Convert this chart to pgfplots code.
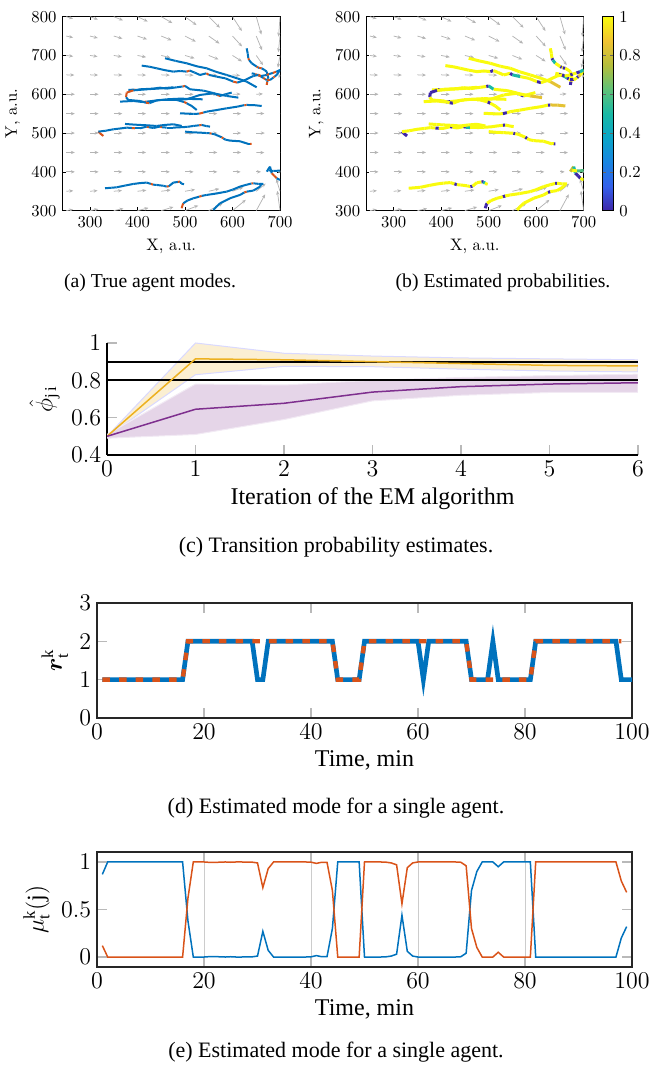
\documentclass[border=0pt]{standalone}
\usepackage{fontspec}
\setmainfont{Liberation Serif}
\newfontfamily\lmr{Latin Modern Roman}
\usepackage{amsmath}
\usepackage{pgfplots}
\pgfplotsset{compat=1.18}
\usepackage{pgfplotstable}
\usetikzlibrary{arrows.meta}

\definecolor{mblue}{RGB}{0,114,189}
\definecolor{morange}{RGB}{217,83,25}
\definecolor{myellow}{RGB}{237,177,32}
\definecolor{mpurple}{RGB}{126,47,142}
\definecolor{qgray}{RGB}{180,180,180}

\pgfplotsset{
  colormap={ao}{rgb255(0cm)=(217,83,25) rgb255(2.5cm)=(217,83,25) rgb255(3cm)=(0,114,189) rgb255(10cm)=(0,114,189)},
  colormap={parula}{rgb255=(62,38,168) rgb255=(52,96,235) rgb255=(25,133,225) rgb255=(10,165,200) rgb255=(25,185,165) rgb255=(95,194,120) rgb255=(180,190,60) rgb255=(240,195,50) rgb255=(249,251,14)},
}

% quiver field (x y u v)
\pgfplotstableread{
x y u v
250 800 14.0 -5.4
300 800 16.7 -7.3
350 800 19.3 -9.6
400 800 21.5 -12.6
450 800 23.3 -16.5
500 800 24.2 -21.6
550 800 23.4 -28.5
600 800 19.6 -37.0
650 800 10.8 -46.1
700 800 -3.0 -51.4
250 750 14.4 -3.9
300 750 16.4 -5.0
350 750 18.3 -6.5
400 750 20.1 -8.3
450 750 21.6 -10.8
500 750 22.7 -14.3
550 750 22.6 -19.4
600 750 20.1 -26.8
650 750 12.1 -36.2
700 750 -3.5 -41.5
250 700 14.6 -2.3
300 700 15.8 -2.8
350 700 17.0 -3.5
400 700 18.1 -4.4
450 700 19.2 -5.6
500 700 20.1 -7.4
550 700 20.6 -10.3
600 700 19.9 -15.4
650 700 14.2 -24.8
700 700 -4.5 -31.4
250 650 17 -0.5
300 650 17 -0.5
350 650 18 -0.6
400 650 18 -0.7
450 650 18 -0.8
500 650 18 -1
550 650 18 -1.2
600 650 16 -1.8
650 650 12 -3
700 650 -3 -8
250 600 18 0
300 600 18 0
350 600 18 0
400 600 18 0
450 600 18 0
500 600 18 0
550 600 18 0
600 600 17 0.5
650 600 14 1
700 600 8 2
250 550 18 0
300 550 18 0
350 550 18 0
400 550 18 0
450 550 18 0
500 550 18 0
550 550 18 0
600 550 18 0
650 550 17 0.5
700 550 12 2
250 500 18 0
300 500 18 0
350 500 18 0
400 500 18 0
450 500 18 0
500 500 18 0
550 500 18 0
600 500 18 0
650 500 18 0
700 500 14 0
250 450 18 0
300 450 18 0
350 450 18 0
400 450 18 0
450 450 18 0
500 450 18 0
550 450 18 0
600 450 18 0
650 450 17 -0.5
700 450 12 -2
250 400 18 0
300 400 18 0
350 400 18 0
400 400 18 0
450 400 18 0
500 400 18 0
550 400 18 0
600 400 17 0
650 400 10 0
700 400 -4 -2
250 350 14.7 1.3
300 350 16.0 1.6
350 350 17.3 2.0
400 350 18.6 2.6
450 350 19.9 3.3
500 350 21.1 4.4
550 350 22.2 6.3
600 350 22.7 10.1
650 350 19.7 19.7
700 350 -7.8 31.3
250 300 14.5 3.0
300 300 17.5 4.0
350 300 20.4 5.4
400 300 23.1 7.2
450 300 25.7 9.6
500 300 27.9 13.2
550 300 29.3 18.8
600 300 27.9 27.9
650 300 18.7 42.1
700 300 -5.7 51.1
}\quivtab

% agent trajectories (x y mode); mode of a point colours the segment that starts there
\pgfplotstableread{
x y m
629.8 718.4 1
632 705 1
633.3 692.7 0
635 688 0.5
640.4 679.8 1
650.9 671.2 0
654 669 1
656 668 0
661.4 666.9 1
668 662 1
672 658.3 1
675.5 641.1 0.85
673 632 0
672 624 0
}\tA
\pgfplotstableread{
x y m
640.4 654 1
648 652 0
657.9 647.1 0.5
665 642 0
669 639 1
672 636.8 0
679 636.8 1
686 643 0
689 646 0.85
693 649.7 1
700 662.6 1
}\tAA
\pgfplotstableread{
x y m
457.9 692.7 1
480 686 1
503.5 679.8 1
525 672 1
545.6 666.9 1
565 658 1
587.7 649.7 1
610 641 1
629.8 632.5 0.85
650.9 617.9 0.85
}\tB
\pgfplotstableread{
x y m
408.8 673.8 1
425 671 1
440.3 666.9 1
458 662 1
475.4 658.3 1
490 660 1
503.5 658.3 0
510 661 1
520 656 1
531.6 649.7 1
545 654 0
550 650 0.5
566.7 645.4 1
585 641 1
601.8 632.5 0
610 630 1
625 636 1
643.9 647.1 1
655 650 0
660 647 1
672 649.7 0
677 652 1
685 655 0
692 658 0.5
700 662.6 1
}\tC
\pgfplotstableread{
x y m
380.7 611.1 1
393 612 0
398 611 1
405.3 612.8 1
433.3 614.5 1
447 617 1
461.4 614.5 1
482.5 617.9 1
495 620 0
500 621.4 0.5
510.5 612.8 1
538.6 609.4 1
560 603 1
568 598 0
573.7 595.6 1
585 600 1
598.3 604.2 1
}\tDa
\pgfplotstableread{
x y m
363.2 581 1
391.2 582.7 1
410 580 0
419.3 581 1
433 583 1
447.4 585.3 1
475.4 585.3 1
503.5 587 1
531.6 598.2 1
559.7 602.5 1
587.7 595.6 0.85
612.3 591.3 0.85
}\tDb
\pgfplotstableread{
x y m
475.4 617.9 1
447.4 615 1
419.3 612.8 1
391.2 610 0
377.2 604.2 0
375.8 592.2 1
380.7 585.3 1
405.3 582.7 1
418 578 0
425 577 1
440 584 1
461.4 587 1
489.5 588.7 1
537.2 587 1
}\tDc
\pgfplotstableread{
x y m
454.4 585.3 1
482.5 585.3 1
498 580 0
503.5 576.7 1
514 569.8 1
524.6 559.5 1
}\tDd
\pgfplotstableread{
x y m
489.5 551 1
517.5 549.2 1
530 550 0
538.6 552.7 1
545.6 555.2 1
565 559 1
587.7 563.8 1
610 568 1
625 572 0
629.8 572.4 0.85
645 572 0.85
661.4 569.8 0.85
}\tE
\pgfplotstableread{
x y m
328.1 492.5 0
321 499.4 0
317.5 503.7 1
333 506 1
349.1 509.7 1
365 512 1
377.2 514 1
388 513 0
394.7 512.3 1
405.3 512.3 1
419.3 516.6 0
424 515 1
433.3 513.1 1
447.4 516.6 0
452 515 0.5
461.4 514 1
475 514 1
489.5 514.9 1
505 516 1
517.5 518.3 1
530 520 0
535 520.9 1
545 518 1
552.6 516.6 1
}\tFa
\pgfplotstableread{
x y m
373.7 523.5 1
390 522 1
405.3 520.9 1
420 520 1
440.3 518.3 1
458 521 1
475.4 522.6 1
493 518.3 1
}\tFb
\pgfplotstableread{
x y m
500 503.7 1
515 502 1
531.6 501.1 1
545 500 1
552 499.4 0
556.1 498.5 1
562 497 1
577.2 489.1 0
581 486 1
585 483 1
594.7 480.5 1
615.8 478.8 1
633.3 472 1
637 472 0
640.4 471.9 0
}\tFc
\pgfplotstableread{
x y m
331.6 357.7 1
345 359 1
356.1 360.2 1
375 365 1
391.2 368.8 1
405 371 1
419.3 372.3 1
428 369 0
433 367 1
440.3 366.3 1
455 364 1
461.4 362 0
466 363 1
475.4 372.3 1
485 374 0
489.5 374.9 0.5
492 370 1
497.9 368 1
}\tG
\pgfplotstableread{
x y m
493 306.1 0
494 312 0
496.5 319 1
505 326 1
517.5 331.9 1
530 336 0
535 338 1
545.6 340.5 1
565 344 1
587.7 349.1 1
600 354 1
615.8 362 1
630 367 1
640 370 0
643.9 370.5 1
655 369 1
664.9 368.8 1
}\tHa
\pgfplotstableread{
x y m
559.7 301.8 1
566 310 1
573.7 319 1
594.7 331.9 1
615.8 340.5 1
625 347 0
629.8 349 1
643.9 351.7 1
658 362 1
661.4 370.5 0.85
}\tHb
\pgfplotstableread{
x y m
672 400.6 0.8
679 413.5 0.5
682.5 396.3 0
688 390 0
693 383.4 1
700 379.1 1
}\tIa
\pgfplotstableread{
x y m
676 404 1
686 402.3 0.6
700 403.2 1
}\tIb

\newcommand\trajs[1]{%
  \addplot[#1] table[meta=m]{\tA};
  \addplot[#1] table[meta=m]{\tAA};
  \addplot[#1] table[meta=m]{\tB};
  \addplot[#1] table[meta=m]{\tC};
  \addplot[#1] table[meta=m]{\tDa};
  \addplot[#1] table[meta=m]{\tDb};
  \addplot[#1] table[meta=m]{\tDc};
  \addplot[#1] table[meta=m]{\tDd};
  \addplot[#1] table[meta=m]{\tE};
  \addplot[#1] table[meta=m]{\tFa};
  \addplot[#1] table[meta=m]{\tFb};
  \addplot[#1] table[meta=m]{\tFc};
  \addplot[#1] table[meta=m]{\tG};
  \addplot[#1] table[meta=m]{\tHa};
  \addplot[#1] table[meta=m]{\tHb};
  \addplot[#1] table[meta=m]{\tIa};
  \addplot[#1] table[meta=m]{\tIb};
}

\pgfplotsset{
  fieldaxis/.style={
    scale only axis, width=130.6pt, height=116.4pt,
    xmin=241.7, xmax=700, ymin=300, ymax=800,
    xtick={300,400,...,700}, ytick={300,400,...,800},
    tick align=inside, major tick length=2pt,
    tick style={black, line width=0.4pt},
    axis line style={line width=0.6pt},
    ticklabel style={font=\fontsize{10}{12}\selectfont},
    label style={font=\lmr\fontsize{10}{12}\selectfont},
    xlabel={X, a.u.}, ylabel={Y, a.u.},
    point meta min=0, point meta max=1,
  },
  quivstyle/.style={quiver={u=\thisrow{u},v=\thisrow{v}}, -{Stealth[length=2.4pt,width=2pt]}, qgray, line width=0.45pt},
  bigaxis/.style={
    scale only axis, width=321pt, height=69pt,
    ticklabel style={font=\fontsize{14.4}{16}\selectfont},
    label style={font=\fontsize{14.4}{16}\selectfont},
    tick align=inside, major tick length=6pt,
    tick style={gray!55, line width=0.7pt},
  },
}

\begin{document}
\begin{tikzpicture}
\useasboundingbox (0,0) rectangle (389.4pt,639pt);

% (a)
\begin{axis}[fieldaxis, at={(37.4pt,512.6pt)}, anchor=south west, colormap name=ao]
\addplot[quivstyle] table {\quivtab};
\trajs{mesh, shader=flat corner, point meta=explicit, line width=1.2pt}
\end{axis}

% (b)
\begin{axis}[fieldaxis, at={(219.6pt,512.6pt)}, anchor=south west, colormap name=parula,
  colorbar, colorbar style={width=6.4pt, at={(parent axis.north east)}, anchor=north west, xshift=3pt,
    ytick={0,0.2,0.4,0.6,0.8,1}, major tick length=2pt, tick align=inside,
    tick style={black!60, line width=0.4pt},
    yticklabel style={font=\fontsize{10}{12}\selectfont},
    axis line style={line width=0.5pt}}]
\addplot[quivstyle] table {\quivtab};
\trajs{mesh, shader=flat corner, point meta=explicit, line width=1.8pt}
\end{axis}

% (c)
\begin{axis}[bigaxis, at={(64.2pt,366pt)}, anchor=south west, width=318.6pt, height=67.2pt,
  xmin=0, xmax=6, ymin=0.4, ymax=1,
  xtick={0,1,2,3,4,5,6}, ytick={0.4,0.6,0.8,1},
  axis x line*=bottom, axis y line*=left,
  axis line style={line width=1.2pt},
  xlabel={Iteration of the EM algorithm},
  ylabel={$\hat{\phi}_{\mathrm{j\,i}}$}]
% bands: upper edge forward, lower edge backward
\addplot[fill=myellow!20, draw=blue!15, line width=0.6pt] coordinates {
(0,0.5)(1,1.0)(2,0.945)(3,0.93)(4,0.92)(5,0.915)(6,0.91)
(6,0.845)(5,0.85)(4,0.86)(3,0.873)(2,0.875)(1,0.83)(0,0.5)} -- cycle;
\addplot[fill=mpurple!20, draw=mpurple!10, line width=0.6pt] coordinates {
(0,0.51)(1,0.78)(2,0.775)(3,0.8)(4,0.815)(5,0.825)(6,0.833)
(6,0.735)(5,0.735)(4,0.72)(3,0.69)(2,0.59)(1,0.51)(0,0.49)} -- cycle;
\addplot[black, line width=1.3pt] coordinates {(0,0.9)(6,0.9)};
\addplot[black, line width=1.3pt] coordinates {(0,0.8)(6,0.8)};
\addplot[myellow, line width=0.9pt] coordinates {(0,0.5)(1,0.915)(2,0.91)(3,0.9)(4,0.89)(5,0.88)(6,0.877)};
\addplot[mpurple, line width=0.9pt] coordinates {(0,0.5)(1,0.645)(2,0.677)(3,0.737)(4,0.766)(5,0.78)(6,0.787)};
\end{axis}

% (d)
\begin{axis}[bigaxis, at={(58.2pt,208.2pt)}, anchor=south west,
  xmin=0, xmax=100, ymin=0, ymax=3,
  xtick={0,20,40,60,80,100}, ytick={0,1,2,3},
  axis line style={line width=1pt, black!85},
  xlabel={Time, min},
  ylabel={$\boldsymbol{r}_{\mathrm{t}}^{\mathrm{k}}$}]
\addplot[mblue, line width=2.8pt, line join=miter, miter limit=20] coordinates {
(1,1)(16,1)(17,2)(29,2)(30,1)(31,1)(32,2)(44,2)(45,1)(49,1)(50,2)(60,2)(61,1)(62,2)(69,2)(70,1)(73,1)(74,2)(75,1)(81,1)(82,2)(97,2)(98,1)(100,1)};
\addplot[morange, line width=2.6pt, dash pattern=on 4.5pt off 5.5pt] coordinates {
(1,1)(16,1)(17,2)(44,2)(45,1)(49,1)(50,2)(69,2)(70,1)(81,1)(82,2)(98,2)};
\end{axis}

% (e)
\begin{axis}[bigaxis, at={(58.2pt,58.8pt)}, anchor=south west,
  xmin=0, xmax=100, ymin=-0.105, ymax=1.105,
  xtick={0,20,40,60,80,100}, ytick={0,0.5,1},
  xmajorgrids, grid style={gray!40, line width=0.6pt},
  axis line style={line width=1pt, black!85},
  xlabel={Time, min},
  ylabel={$\mu_{\mathrm{t}}^{\mathrm{k}}(\mathrm{j})$}]
\addplot[mblue, line width=0.9pt] coordinates {
(1,0.87)(2,1)(3,1)(4,1)(5,1)(6,1)(7,1)(8,1)(9,1)(10,1)(11,1)(12,1)(13,1)(14,1)(15,1)(16,1)
(17,0.38)(18,0)(19,0)(20,0)(21,0.004)(22,0.005)(23,0.002)(24,0)(25,0.003)(26,0)(27,0)(28,0.002)(29,0.002)(30,0.01)
(31,0.27)(32,0.07)(33,0)(34,0)(35,0)(36,0)(37,0)(38,0)(39,0)(40,0.002)(41,0.015)(42,0.003)(43,0.005)(44,0.3)
(45,1)(46,1)(47,1)(48,1)(49,1)(50,0)(51,0)(52,0)(53,0)(54,0.002)(55,0.01)(56,0.03)(57,0.44)(58,0.06)(59,0.01)
(60,0)(61,0)(62,0)(63,0)(64,0)(65,0)(66,0)(67,0)(68,0.003)(69,0.04)(70,0.7)(71,0.9)(72,1)(73,1)(74,1)(75,0.95)
(76,1)(77,1)(78,1)(79,1)(80,1)(81,1)(82,0)(83,0)(84,0)(85,0)(86,0)(87,0)(88,0)(89,0)(90,0)(91,0)(92,0)(93,0)
(94,0)(95,0)(96,0)(97,0)(98,0.2)(99,0.32)};
\addplot[morange, line width=0.9pt] coordinates {
(1,0.12)(2,0)(3,0)(4,0)(5,0)(6,0)(7,0)(8,0)(9,0)(10,0)(11,0)(12,0)(13,0)(14,0)(15,0)(16,0)
(17,0.62)(18,1)(19,1)(20,1)(21,0.996)(22,0.995)(23,0.998)(24,1)(25,0.997)(26,1)(27,1)(28,0.998)(29,0.998)(30,0.99)
(31,0.73)(32,0.93)(33,1)(34,1)(35,1)(36,1)(37,1)(38,1)(39,1)(40,0.998)(41,0.985)(42,0.997)(43,0.995)(44,0.7)
(45,0)(46,0)(47,0)(48,0)(49,0)(50,1)(51,1)(52,1)(53,1)(54,0.998)(55,0.99)(56,0.97)(57,0.56)(58,0.94)(59,0.99)
(60,1)(61,1)(62,1)(63,1)(64,1)(65,1)(66,1)(67,1)(68,0.997)(69,0.96)(70,0.3)(71,0.1)(72,0)(73,0)(74,0)(75,0.05)
(76,0)(77,0)(78,0)(79,0)(80,0)(81,0)(82,1)(83,1)(84,1)(85,1)(86,1)(87,1)(88,1)(89,1)(90,1)(91,1)(92,1)(93,1)
(94,1)(95,1)(96,1)(97,1)(98,0.8)(99,0.68)};
\end{axis}

% captions
\node[font=\fontsize{11.8}{14}\selectfont] at (90pt,469.2pt) {(a) True agent modes.};
\node[font=\fontsize{11.8}{14}\selectfont] at (301.8pt,469.2pt) {(b) Estimated probabilities.};
\node[font=\fontsize{13.2}{15}\selectfont] at (201.6pt,310.8pt) {(c) Transition probability estimates.};
\node[font=\fontsize{13.2}{15}\selectfont] at (201.6pt,154.2pt) {(d) Estimated mode for a single agent.};
\node[font=\fontsize{13.2}{15}\selectfont] at (201.6pt,7.8pt) {(e) Estimated mode for a single agent.};
\end{tikzpicture}
\end{document}
